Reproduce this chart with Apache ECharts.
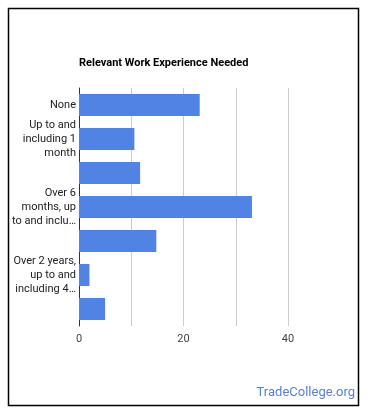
<!DOCTYPE html>
<html>
<head>
<meta charset="utf-8">
<script src="https://cdn.jsdelivr.net/npm/echarts@6/dist/echarts.min.js"></script>
<style>
html,body{margin:0;padding:0;background:#fff;}
#chart{width:370px;height:417px;}
</style>
</head>
<body>
<div id="chart"></div>
<script>
const categories = [
  "None",
  "Up to and including 1 month",
  "Over 1 month, up to and including 3 months",
  "Over 6 months, up to and including 1 year",
  "Over 1 year, up to and including 2 years",
  "Over 2 years, up to and including 4 years",
  "Over 4 years, up to and including 6 years"
];
const tickLabels = [
  "None",
  "Up to and\nincluding 1\nmonth",
  "",
  "Over 6\nmonths, up\nto and inclu…",
  "",
  "Over 2 years,\nup to and\nincluding 4…",
  ""
];
const values = [23.1, 10.6, 11.7, 33.1, 14.8, 2.0, 5.0];
const xTicks = [0, 20, 40];

const chart = echarts.init(document.getElementById('chart'), null, {renderer: 'canvas'});
chart.setOption({
  animation: false,
  backgroundColor: '#fff',
  title: {
    text: 'Relevant Work Experience Needed',
    left: 79,
    top: 58,
    padding: 0,
    textStyle: {fontFamily: 'Roboto', fontSize: 11, fontWeight: 'bold', color: '#000'}
  },
  grid: {left: 79, right: 82, top: 88, height: 238, containLabel: false},
  xAxis: {
    type: 'value',
    min: 0,
    max: 40,
    interval: 10,
    axisLine: {show: false},
    axisTick: {show: false},
    splitLine: {show: true, lineStyle: {color: '#cccccc', width: 1}},
    axisLabel: {
      fontFamily: 'Roboto', fontSize: 11, color: '#444', margin: 8,
      showMaxLabel: true,
      formatter: v => xTicks.includes(v) ? String(v) : ''
    }
  },
  yAxis: {
    type: 'category',
    inverse: true,
    data: categories,
    axisLine: {show: true, onZero: false, lineStyle: {color: '#333', width: 1}},
    axisTick: {show: false},
    axisLabel: {
      interval: 0,
      fontFamily: 'Roboto', fontSize: 11, color: '#222', lineHeight: 14, margin: 3,
      formatter: (v, i) => tickLabels[i]
    }
  },
  series: [{
    type: 'bar',
    data: values,
    barCategoryGap: '35%',
    itemStyle: {color: '#5083e3'}
  }],
  graphic: [
    {
      type: 'rect',
      shape: {x: 8.5, y: 8.5, width: 350, height: 397},
      style: {fill: 'none', stroke: '#000', lineWidth: 1.5},
      silent: true
    },
    {
      type: 'text',
      right: 15,
      top: 386,
      style: {text: 'TradeCollege.org', fill: '#5b7fd0', font: '13px Roboto'}
    }
  ]
});
</script>
</body>
</html>
